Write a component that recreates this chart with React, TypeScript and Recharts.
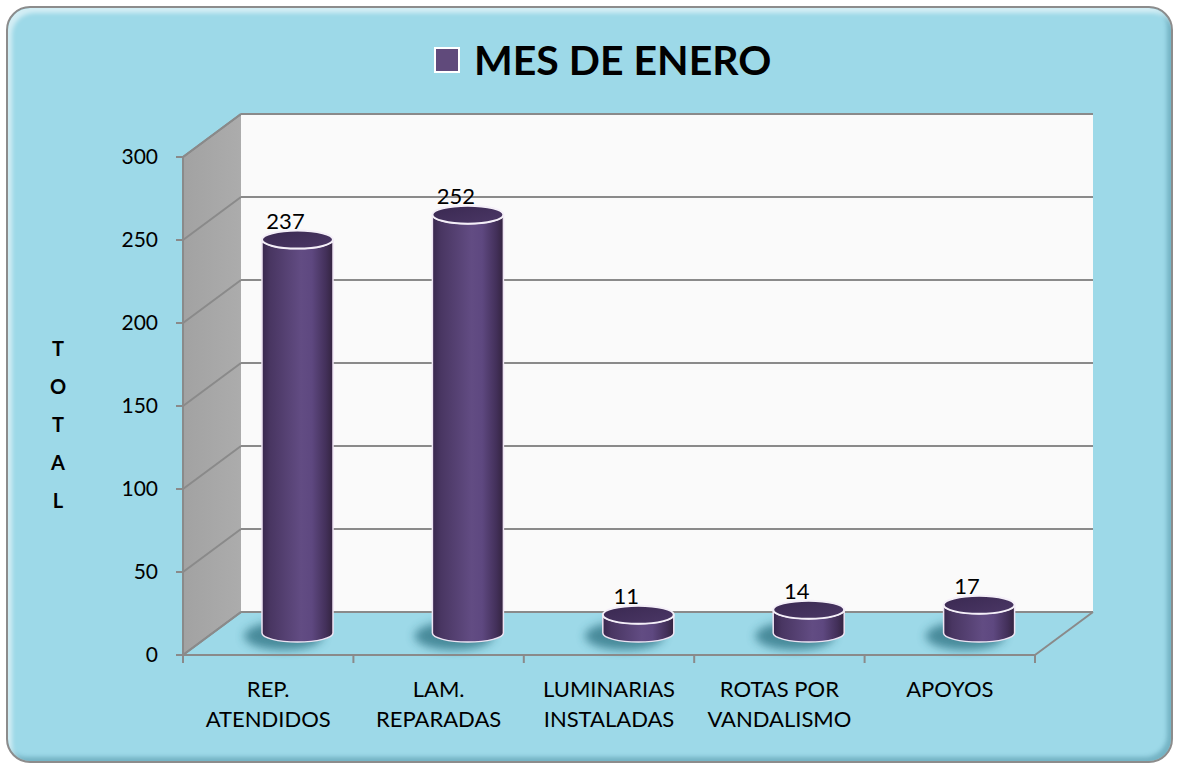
import React from "react";
import {
  BarChart,
  Bar,
  XAxis,
  YAxis,
  CartesianGrid,
  Legend,
  LabelList,
  Customized,
} from "recharts";

// data
const categories = [
  "REP.\nATENDIDOS",
  "LAM.\nREPARADAS",
  "LUMINARIAS\nINSTALADAS",
  "ROTAS POR\nVANDALISMO",
  "APOYOS",
];
const totals = [237, 252, 11, 14, 17];
const yTicks = [0, 50, 100, 150, 200, 250, 300];
const seriesName = "MES DE ENERO";
const axisTitle = "TOTAL";

const data = categories.map((name, i) => ({ name, total: totals[i] }));

const W = 1177;
const H = 766;
const LEFT = 183;
const TOP = 157;
const RIGHT = 1035;
const BOTTOM = 655;
// 3d depth: back wall offset, bars sit half way
const DX = 58;
const DY = -43;
const MX = 29;
const MY = -22;

const FONT = "Lato, 'Open Sans', sans-serif";
const GRID = "#8a8a8a";
const BG = "#9dd9e8";

// walls + floor, drawn behind the chart svg
function Walls() {
  const side = `${LEFT},${TOP} ${LEFT + DX},${TOP + DY} ${LEFT + DX},${BOTTOM + DY} ${LEFT},${BOTTOM}`;
  const floor = `${LEFT},${BOTTOM} ${LEFT + DX},${BOTTOM + DY} ${RIGHT + DX},${BOTTOM + DY} ${RIGHT},${BOTTOM}`;
  return (
    <svg width={W} height={H} style={{ position: "absolute", left: 0, top: 0 }}>
      <defs>
        <linearGradient id="sideWall" x1="0" y1="0" x2="1" y2="0">
          <stop offset="0" stopColor="#a2a2a2" />
          <stop offset="1" stopColor="#acacac" />
        </linearGradient>
      </defs>
      <rect
        x={LEFT + DX}
        y={TOP + DY}
        width={RIGHT - LEFT}
        height={BOTTOM - TOP}
        fill="#fafafa"
      />
      <polygon points={side} fill="url(#sideWall)" />
      <polygon points={floor} fill={BG} />
      <g stroke={GRID} strokeWidth={2}>
        <line x1={LEFT + DX} y1={TOP + DY} x2={RIGHT + DX} y2={TOP + DY} />
        <line x1={LEFT} y1={TOP} x2={LEFT + DX} y2={TOP + DY} />
        <line x1={LEFT + DX} y1={BOTTOM + DY} x2={RIGHT + DX} y2={BOTTOM + DY} />
        <line x1={LEFT} y1={BOTTOM} x2={LEFT + DX} y2={BOTTOM + DY} />
        <line x1={RIGHT} y1={BOTTOM} x2={RIGHT + DX} y2={BOTTOM + DY} />
      </g>
    </svg>
  );
}

function CylDefs() {
  return (
    <defs>
      <linearGradient id="cylBody" x1="0" y1="0" x2="1" y2="0">
        <stop offset="0" stopColor="#38274d" />
        <stop offset="0.12" stopColor="#493662" />
        <stop offset="0.55" stopColor="#624c83" />
        <stop offset="0.7" stopColor="#5e4880" />
        <stop offset="0.9" stopColor="#43305a" />
        <stop offset="1" stopColor="#33243f" />
      </linearGradient>
      <linearGradient id="cylTop" x1="0" y1="0" x2="1" y2="1">
        <stop offset="0" stopColor="#3a2951" />
        <stop offset="1" stopColor="#4b3766" />
      </linearGradient>
      <filter id="shadowBlur" x="-50%" y="-50%" width="200%" height="200%">
        <feGaussianBlur stdDeviation="5" />
      </filter>
    </defs>
  );
}

function GridLine(props: any) {
  const { x1, x2, y1 } = props;
  return (
    <g>
      <line x1={x1 + DX} y1={y1 + DY} x2={x2 + DX} y2={y1 + DY} stroke={GRID} strokeWidth={2} />
      <line x1={x1} y1={y1} x2={x1 + DX} y2={y1 + DY} stroke={GRID} strokeWidth={2} />
    </g>
  );
}

function Cylinder(props: any) {
  const { x, y, width, height } = props;
  if (width == null || height == null) return null;
  const rx = width / 2;
  const ry = 9;
  const cx = x + rx + MX;
  const top = y + MY;
  const bot = y + height + MY;
  const body = `M${cx - rx},${top} L${cx - rx},${bot} A${rx},${ry} 0 0 0 ${cx + rx},${bot} L${cx + rx},${top} A${rx},${ry} 0 0 1 ${cx - rx},${top} Z`;
  return (
    <g>
      <ellipse
        cx={cx - 14}
        cy={bot + 3}
        rx={rx + 4}
        ry={ry + 5}
        fill="#2a6f80"
        opacity={0.75}
        filter="url(#shadowBlur)"
      />
      <path d={body} fill="url(#cylBody)" stroke="#eee4f3" strokeWidth={1.5} />
      <ellipse cx={cx} cy={top} rx={rx} ry={ry} fill="url(#cylTop)" stroke="#f4eff8" strokeWidth={2} />
    </g>
  );
}

function ValueLabel(p: any) {
  const vb = p.viewBox || p;
  const x = vb.x ?? p.x;
  const y = vb.y ?? p.y;
  const width = vb.width ?? p.width;
  return (
    <text
      x={x + width / 2 + MX - 12}
      y={y + MY - 19}
      textAnchor="middle"
      dominantBaseline="central"
      fontSize={22}
      fontFamily={FONT}
      fill="#000"
    >
      {p.value}
    </text>
  );
}

function CategoryTick(props: any) {
  const { x, y, payload, index } = props;
  const band = (RIGHT - LEFT) / categories.length;
  const lines = String(payload.value).split("\n");
  return (
    <g>
      <line x1={x - band / 2} y1={y} x2={x - band / 2} y2={y + 8} stroke={GRID} strokeWidth={2} />
      {index === categories.length - 1 && (
        <line x1={x + band / 2} y1={y} x2={x + band / 2} y2={y + 8} stroke={GRID} strokeWidth={2} />
      )}
      {lines.map((l, i) => (
        <text
          key={i}
          x={x}
          y={y + 42 + i * 30}
          textAnchor="middle"
          fontSize={22}
          fontFamily={FONT}
          fill="#000"
        >
          {l}
        </text>
      ))}
    </g>
  );
}

function AxisTitle() {
  return (
    <g>
      {axisTitle.split("").map((ch, i) => (
        <text
          key={i}
          x={58}
          y={348 + i * 38}
          textAnchor="middle"
          dominantBaseline="central"
          fontSize={20}
          fontWeight={700}
          fontFamily={FONT}
          fill="#000"
        >
          {ch}
        </text>
      ))}
    </g>
  );
}

const renderLegend = () => (
  <div style={{ display: "flex", alignItems: "center", fontFamily: FONT }}>
    <span
      style={{
        width: 26,
        height: 26,
        boxSizing: "border-box",
        background: "#604a7b",
        border: "2px solid #fff",
        marginRight: 14,
      }}
    />
    <span style={{ fontSize: 41, fontWeight: 700, color: "#000", lineHeight: "50px" }}>
      {seriesName}
    </span>
  </div>
);

export default function App() {
  return (
    <div style={{ position: "absolute", left: 0, top: 0, width: W, height: H }}>
      <div
        style={{
          position: "absolute",
          left: 6,
          top: 6,
          width: 1167,
          height: 757,
          boxSizing: "border-box",
          borderRadius: 24,
          background: BG,
          border: "2px solid #8c8c8c",
          boxShadow:
            "inset 4px 5px 4px rgba(255,255,255,0.55), inset -4px -4px 4px rgba(40,110,130,0.35)",
        }}
      />
      <Walls />
      <div style={{ position: "absolute", left: 0, top: 0 }}>
        <BarChart
          width={W}
          height={H}
          data={data}
          margin={{ top: TOP, right: W - RIGHT, bottom: 0, left: 0 }}
          barSize={71}
        >
          <Customized component={<CylDefs />} />
          <CartesianGrid
            vertical={false}
            stroke={GRID}
            horizontal={(p: any) => <GridLine key={p.key} {...p} />}
          />
          <Legend
            layout="horizontal"
            verticalAlign="middle"
            align="center"
            content={renderLegend}
            wrapperStyle={{ left: 434, top: 35, width: "auto" }}
          />
          <XAxis
            dataKey="name"
            height={H - BOTTOM}
            interval={0}
            tickLine={false}
            tickSize={0}
            tickMargin={0}
            axisLine={{ stroke: GRID, strokeWidth: 2 }}
            tick={<CategoryTick />}
          />
          <YAxis
            width={LEFT}
            domain={[0, 300]}
            ticks={yTicks}
            interval={0}
            tickSize={7}
            tickMargin={18}
            tickLine={{ stroke: GRID, strokeWidth: 2 }}
            axisLine={{ stroke: GRID, strokeWidth: 2 }}
            tick={{ fontSize: 21, fontFamily: FONT, fill: "#000" }}
          />
          <Bar dataKey="total" shape={<Cylinder />} isAnimationActive={false}>
            <LabelList dataKey="total" content={<ValueLabel />} />
          </Bar>
          <Customized component={<AxisTitle />} />
        </BarChart>
      </div>
    </div>
  );
}
